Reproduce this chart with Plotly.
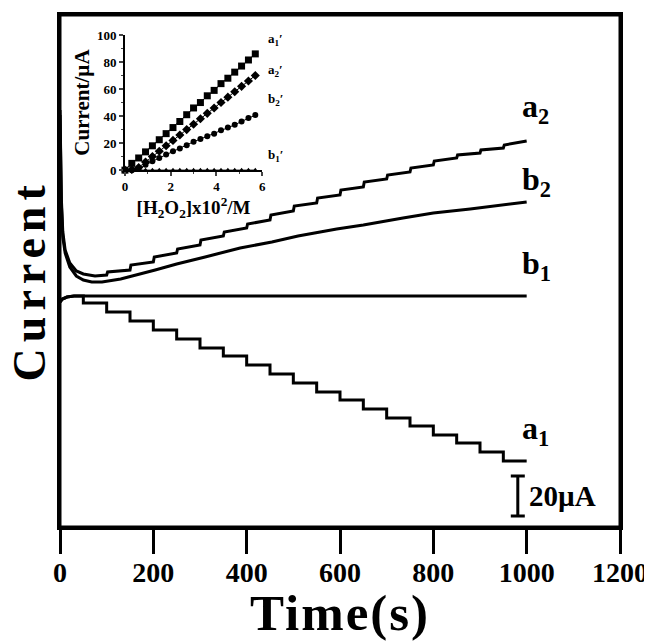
import plotly.graph_objects as go

FONT = "Liberation Serif"

# ---------------- main chart data (current in µA, arbitrary offset) ----------------
# a1: initial rise then downward steps at each H2O2 addition
a1_start_t = [0, 5, 15, 30]
a1_start_v = [112.5, 114, 115, 115.5]
step_times = [50, 100, 150, 200, 250, 300, 350, 400, 450, 500,
              550, 600, 650, 700, 750, 800, 850, 900, 950]
a1_levels = [112, 107.5, 103, 98.5, 94, 89.5, 85.5, 81, 76.5, 72,
             67.5, 63.5, 59, 54.5, 50.5, 46, 42, 37.5, 33]
t_end = 1000

# b1: flat baseline
b1_t = [0, 5, 15, 30, 1000]
b1_v = [112.5, 114, 115, 115.5, 115.5]

# a2: decay then rising with small steps
a2_start_t = [0, 3, 6, 11, 21, 35, 50, 75]
a2_start_v = [208.5, 163.5, 147.5, 138.5, 132, 128, 126.5, 125.5]
a2_step_t = [100, 150, 200, 250, 300, 350, 400, 450, 500, 550,
             600, 650, 700, 750, 800, 850, 900, 950]
a2_before = [126, 128.5, 132.5, 137, 141, 145.5, 149.5, 153.5, 158, 162,
             166, 170, 174, 177.5, 181, 184.5, 187, 189.5]
a2_after = [127.5, 131, 135, 139, 143.5, 147.5, 151.5, 156, 160.5, 164.5,
            168.5, 172.5, 176, 179.5, 183, 186, 188.5, 191]
a2_end_v = 193

# b2: decay then smooth rise
b2_t = [0, 3, 6, 11, 21, 35, 50, 68, 90, 130, 204, 250, 311, 386, 454,
        510, 593, 650, 735, 800, 879, 950, 1000]
b2_v = [206, 161, 145, 137, 130, 125.5, 123.5, 122.5, 122.5, 124, 128.5, 131.5,
        135, 139.5, 142.5, 145.5, 149, 151, 154.5, 157, 159, 161, 162.5]

# scale bar (20 µA)
scale_t = 981
scale_center = 15.5
scale_size = 20

# ---------------- inset data ----------------
conc = [0, 0.3, 0.6, 0.9, 1.2, 1.5, 1.8, 2.1, 2.4, 2.7,
        3.0, 3.3, 3.6, 3.9, 4.2, 4.5, 4.8, 5.1, 5.4, 5.7]
a1p = [0, 5, 9, 13.5, 18, 22.5, 27, 31.5, 36, 41,
       46, 50, 55, 59, 64, 68, 72.5, 77, 81.5, 86]
a2p = [0, 0.5, 2, 6, 10, 14, 18, 22, 26, 30,
       34, 38, 42, 46, 50, 54, 58, 62, 66, 70]
b2p = [0, 0, 1, 4, 6.5, 9, 11.5, 14, 16, 18.5,
       21, 23, 25, 27, 29.5, 31.5, 33.5, 36, 38.5, 40.7]
b1p = [0] * 20

# ---------------- build step traces ----------------
a1_x = list(a1_start_t)
a1_y = list(a1_start_v)
prev = a1_start_v[-1]
for t, lv in zip(step_times, a1_levels):
    a1_x += [t, t]
    a1_y += [prev, lv]
    prev = lv
a1_x.append(t_end)
a1_y.append(prev)

a2_x = list(a2_start_t)
a2_y = list(a2_start_v)
for t, b, a in zip(a2_step_t, a2_before, a2_after):
    a2_x += [t, t + 2]
    a2_y += [b, a]
a2_x.append(t_end)
a2_y.append(a2_end_v)

fig = go.Figure()
line_main = dict(color="black", width=3)
for xs, ys in [(a1_x, a1_y), (b1_t, b1_v), (a2_x, a2_y), (b2_t, b2_v)]:
    fig.add_trace(go.Scatter(x=xs, y=ys, mode="lines", line=line_main,
                             showlegend=False, hoverinfo="skip"))

fig.add_trace(go.Scatter(
    x=[scale_t], y=[scale_center], mode="markers",
    marker=dict(size=1, color="black"),
    error_y=dict(type="constant", value=scale_size / 2, color="black",
                 thickness=3, width=7),
    showlegend=False, hoverinfo="skip"))

# inset traces
mk = dict(color="black")
inset_series = [(a1p, "square", 7), (a2p, "diamond", 7), (b2p, "circle", 6),
                (b1p, "triangle-up", 5)]
for vals, sym, sz in inset_series:
    fig.add_trace(go.Scatter(x=conc, y=vals, xaxis="x2", yaxis="y2",
                             mode="lines+markers",
                             line=dict(color="black", width=1),
                             marker=dict(symbol=sym, size=sz, **mk),
                             showlegend=False, cliponaxis=False, hoverinfo="skip"))

bold = dict(family=FONT, color="black", weight="bold")

# curve labels (main)
labels = [("a<sub>2</sub>", 985, 209.5), ("b<sub>2</sub>", 985, 173),
          ("b<sub>1</sub>", 985, 131), ("a<sub>1</sub>", 985, 48.5)]
for txt, x, y in labels:
    fig.add_annotation(x=x, y=y, xref="x", yref="y", text=txt, showarrow=False,
                       xanchor="left", yanchor="middle", font=dict(size=32, **bold))
fig.add_annotation(x=1000, y=scale_center, xref="x", yref="y", text="20µA",
                   showarrow=False, xanchor="left", yanchor="middle",
                   font=dict(size=29, **bold))

# inset labels
ilabels = [("a<sub>1</sub>′", 97), ("a<sub>2</sub>′", 74), ("b<sub>2</sub>′", 52),
           ("b<sub>1</sub>′", 11)]
for txt, y in ilabels:
    fig.add_annotation(x=1.03, y=y, xref="x2 domain", yref="y2", text=txt,
                       showarrow=False, xanchor="left", yanchor="middle",
                       font=dict(size=13, **bold))

# main y-axis title
fig.add_annotation(x=-0.055, y=0.482, xref="paper", yref="paper",
                   text='<span style="letter-spacing:6px">Current</span>',
                   textangle=-90, showarrow=False, xanchor="center", yanchor="middle",
                   font=dict(size=46, **bold))

# plot frame
fig.add_shape(type="rect", xref="x domain", yref="y domain", x0=0, x1=1, y0=0, y1=1,
              line=dict(color="black", width=3), layer="above")

fig.update_layout(
    width=644, height=633,
    margin=dict(l=52, r=32, t=7, b=114),
    paper_bgcolor="white", plot_bgcolor="white",
    font=dict(family=FONT, color="black"),
    xaxis=dict(range=[0, 1200], tickvals=[0, 200, 400, 600, 800, 1000, 1200],
               ticks="outside", ticklen=24, tickwidth=2.5, tickcolor="black",
               showline=True, linewidth=3, linecolor="black", mirror=True,
               showgrid=False, zeroline=False, ticklabelstandoff=-6,
               automargin=False,
               tickfont=dict(size=28, **bold),
               title=dict(text='<span style="letter-spacing:2px">Time(s)</span>',
                          font=dict(size=51, **bold), standoff=2)),
    yaxis=dict(range=[0, 256], showticklabels=False, ticks="",
               showline=True, linewidth=3, linecolor="black", mirror=True,
               showgrid=False, zeroline=False, automargin=False),
    xaxis2=dict(domain=[0.116, 0.361], anchor="y2", range=[0, 6],
                tickvals=[0, 2, 4, 6], ticks="outside", ticklen=4, tickwidth=1.5,
                minor=dict(tickvals=[1, 3, 5], ticks="outside", ticklen=2, tickwidth=1),
                showline=True, linewidth=1.5, linecolor="black", showgrid=False,
                zeroline=False, automargin=False, tickfont=dict(size=13, **bold),
                title=dict(text="[H<sub>2</sub>O<sub>2</sub>]x10<sup>2</sup>/M",
                           font=dict(size=19, **bold), standoff=0)),
    yaxis2=dict(domain=[0.697, 0.961], anchor="x2", range=[0, 100],
                tickvals=[0, 20, 40, 60, 80, 100], ticks="outside", ticklen=4,
                tickwidth=1.5,
                minor=dict(tickvals=[10, 30, 50, 70, 90], ticks="outside",
                           ticklen=2, tickwidth=1),
                showline=True, linewidth=1.5, linecolor="black", showgrid=False,
                zeroline=False, automargin=False, tickfont=dict(size=13, **bold),
                title=dict(text="Current/µA", font=dict(size=21, **bold), standoff=2)),
)

fig.write_html("out.html")
